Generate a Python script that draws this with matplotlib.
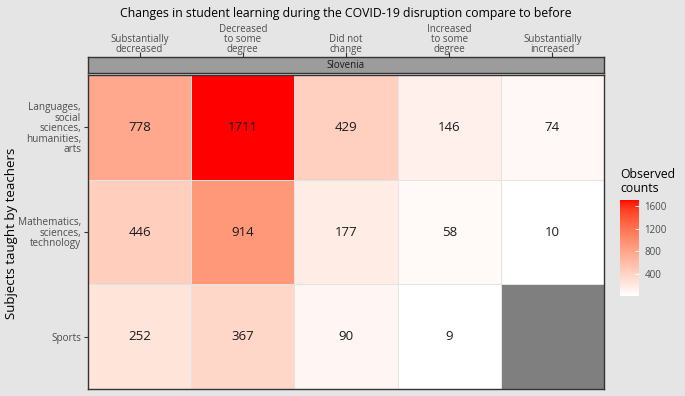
import numpy as np
import matplotlib.pyplot as plt
from matplotlib.colors import ListedColormap, Normalize

plt.rcParams['font.family'] = ['Open Sans', 'DejaVu Sans']

## Data ##
changes = ["Substantially\ndecreased", "Decreased\nto some\ndegree", "Did not\nchange",
           "Increased\nto some\ndegree", "Substantially\nincreased"]
subjects = ["Languages,\nsocial\nsciences,\nhumanities,\narts",
            "Mathematics,\nsciences,\ntechnology", "Sports"]
languages = [778, 1711, 429, 146, 74]
maths = [446, 914, 177, 58, 10]
sports = [252, 367, 90, 9, np.nan]
country = "Slovenia"

counts = np.array([languages, maths, sports], dtype=float)


## White -> red gradient interpolated in Lab (like ggplot) ##
def srgb_to_lab(rgb):
    c = np.array(rgb, dtype=float)
    lin = np.where(c <= 0.04045, c / 12.92, ((c + 0.055) / 1.055) ** 2.4)
    m = np.array([[0.4124, 0.3576, 0.1805],
                  [0.2126, 0.7152, 0.0722],
                  [0.0193, 0.1192, 0.9505]])
    xyz = m @ lin / np.array([0.95047, 1.0, 1.08883])
    f = np.where(xyz > 0.008856, np.cbrt(xyz), 7.787 * xyz + 16 / 116)
    return np.array([116 * f[1] - 16, 500 * (f[0] - f[1]), 200 * (f[1] - f[2])])


def lab_to_srgb(lab):
    L, a, b = lab
    fy = (L + 16) / 116
    fx = fy + a / 500
    fz = fy - b / 200
    f = np.array([fx, fy, fz])
    xyz = np.where(f ** 3 > 0.008856, f ** 3, (f - 16 / 116) / 7.787)
    xyz = xyz * np.array([0.95047, 1.0, 1.08883])
    m = np.array([[3.2406, -1.5372, -0.4986],
                  [-0.9689, 1.8758, 0.0415],
                  [0.0557, -0.2040, 1.0570]])
    lin = np.clip(m @ xyz, 0, 1)
    c = np.where(lin <= 0.0031308, 12.92 * lin, 1.055 * lin ** (1 / 2.4) - 0.055)
    return np.clip(c, 0, 1)


lab_lo = srgb_to_lab([1, 1, 1])
lab_hi = srgb_to_lab([1, 0, 0])
cols = [lab_to_srgb(lab_lo + t * (lab_hi - lab_lo)) for t in np.linspace(0, 1, 256)]
cmap = ListedColormap(cols)
cmap.set_bad('#7f7f7f')
norm = Normalize(vmin=np.nanmin(counts), vmax=np.nanmax(counts))

## Figure ##
bg = '#e5e5e5'
fig = plt.figure(figsize=(6.85, 3.96), dpi=100, facecolor=bg)

ax = fig.add_axes([88 / 685, 1 - 389 / 396, 516 / 685, 314 / 396])
ax.pcolormesh(np.ma.masked_invalid(counts), cmap=cmap, norm=norm,
              edgecolors='#e3e3e3', linewidth=0.6)
ax.set_xlim(0, 5)
ax.set_ylim(3, 0)
for i in range(counts.shape[0]):
    for j in range(counts.shape[1]):
        if not np.isnan(counts[i, j]):
            ax.text(j + 0.5, i + 0.5, "%d" % counts[i, j], ha='center', va='center',
                    fontsize=9.5, color='#1a1a1a')
ax.set_xticks([])
ax.set_yticks(np.arange(3) + 0.5)
ax.set_yticklabels(subjects, fontsize=7.2, color='#4d4d4d', linespacing=0.95)
ax.tick_params(axis='y', length=3, width=0.8, color='#333333', pad=2)
for s in ax.spines.values():
    s.set_color('#333333')
    s.set_linewidth(1.0)
fig.text(12 / 685, 1 - 233 / 396, "Subjects taught by teachers", rotation=90,
         ha='center', va='center', fontsize=9.5, color='black')

## Facet strip with the top axis ##
strip = fig.add_axes([88 / 685, 1 - 73 / 396, 516 / 685, 16 / 396])
strip.set_facecolor('#9c9c9c')
strip.set_xlim(0, 5)
strip.set_ylim(0, 1)
strip.set_yticks([])
strip.xaxis.tick_top()
strip.set_xticks(np.arange(5) + 0.5)
strip.set_xticklabels(changes, fontsize=7, color='#4d4d4d', linespacing=0.9)
strip.tick_params(axis='x', length=3.5, width=0.8, color='#333333', pad=-2)
strip.text(2.5, 0.5, country, ha='center', va='center', fontsize=7, color='#1a1a1a')
for s in strip.spines.values():
    s.set_color('#333333')
    s.set_linewidth(1.0)

fig.text(346 / 685, 1 - 14 / 396, "Changes in student learning during the COVID-19 disruption compare to before",
         ha='center', va='center', fontsize=8.8, color='black')

## Colour bar legend ##
cax = fig.add_axes([620 / 685, 1 - 296 / 396, 19 / 685, 96 / 396])
cb = fig.colorbar(plt.cm.ScalarMappable(norm=norm, cmap=cmap), cax=cax)
cb.set_ticks([400, 800, 1200, 1600])
cb.outline.set_visible(False)
cax.tick_params(length=3, color='white', width=0.6, labelsize=7, labelcolor='#4d4d4d', pad=4,
                direction='in')
fig.text(620 / 685, 1 - 182 / 396, "Observed\ncounts", ha='left', va='center', fontsize=8.8,
         color='black', linespacing=1.1)

fig.savefig("out.png", dpi=100, facecolor=bg)
